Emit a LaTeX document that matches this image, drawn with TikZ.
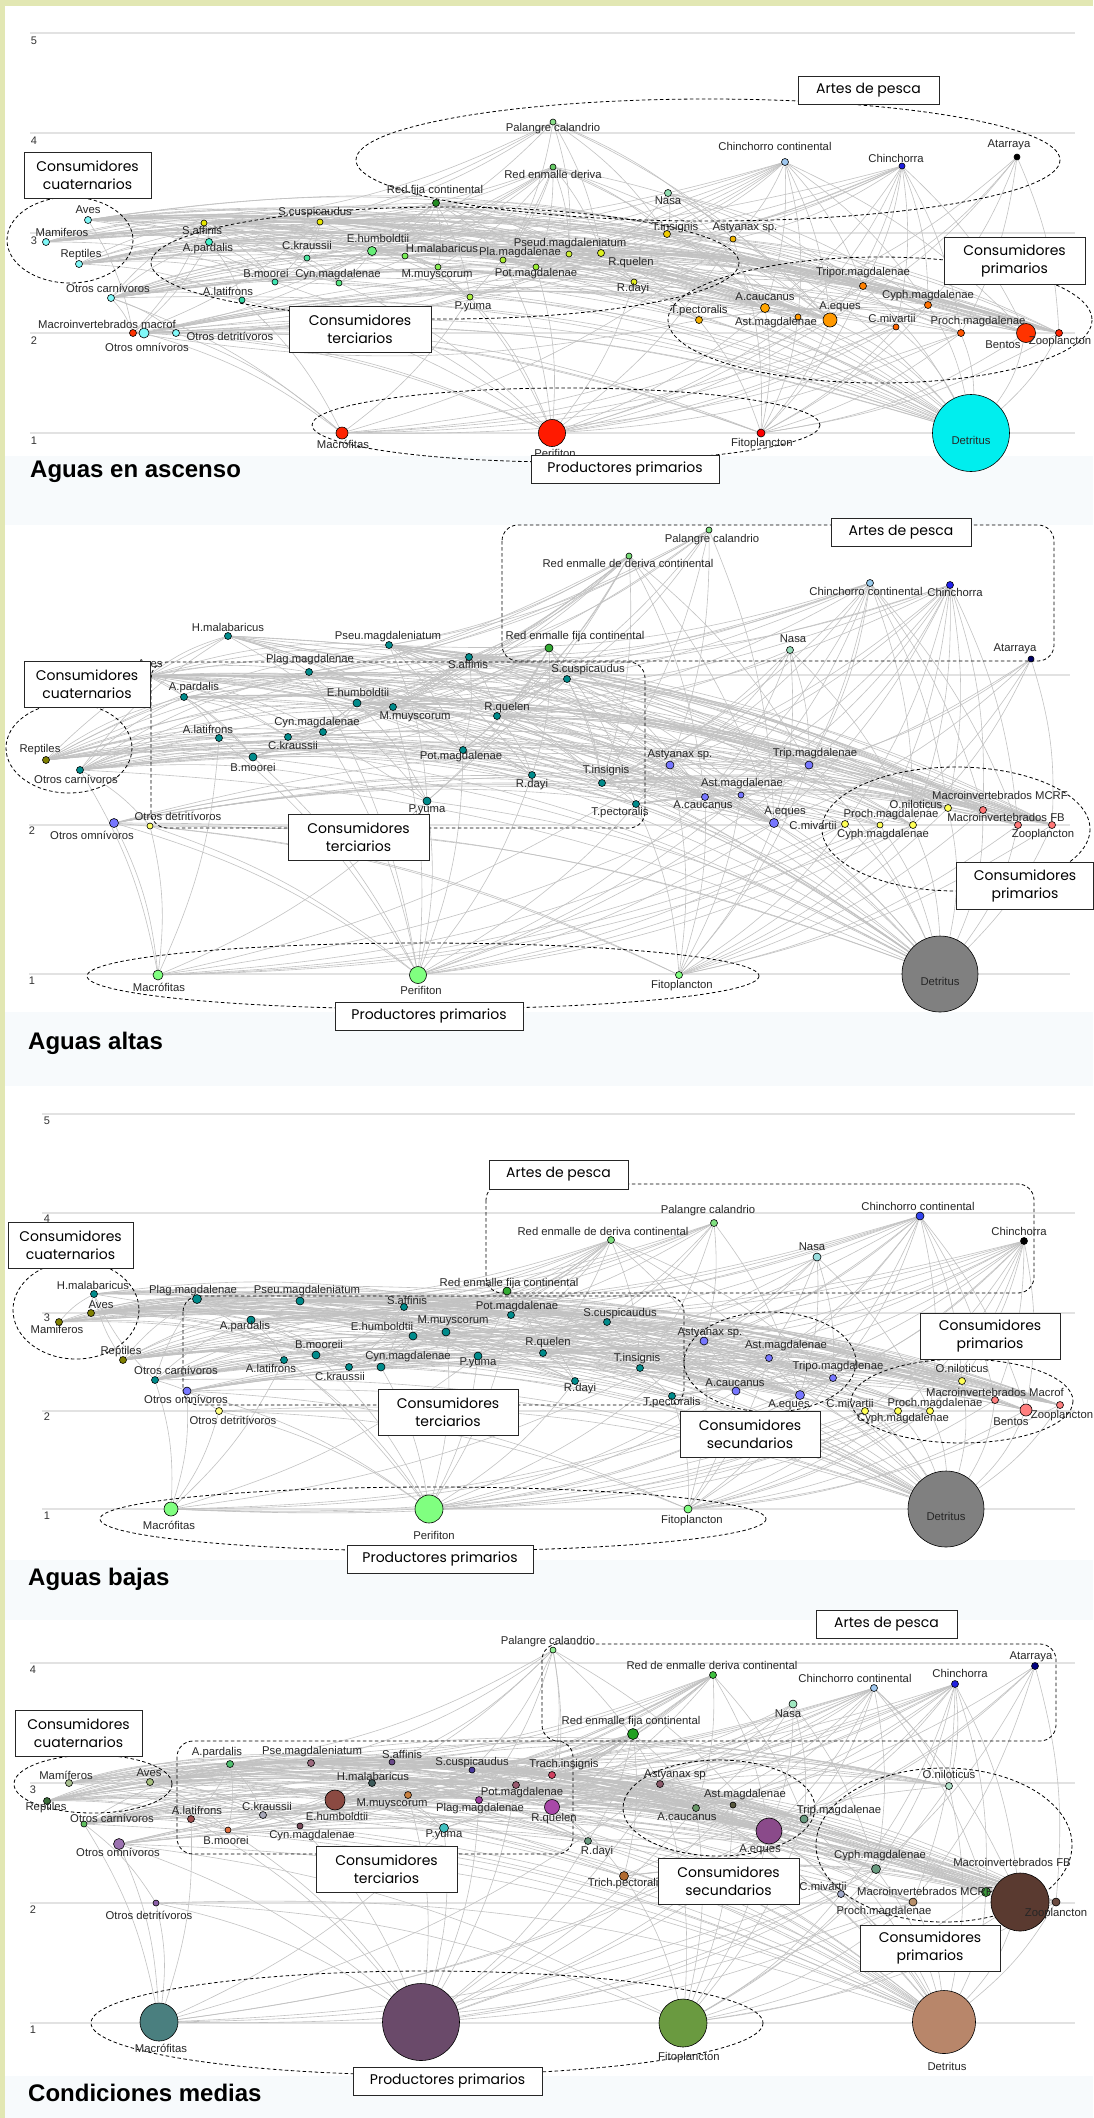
\documentclass[tikz,border=0pt]{standalone}
\usepackage{fontspec}
\setmainfont{Liberation Sans}
\newfontfamily\boxfont{Poppins}
\newfontfamily\titlefont{Liberation Sans}
\pgfdeclarelayer{bgl}
\pgfdeclarelayer{edl}
\pgfsetlayers{bgl,edl,main}
\definecolor{edgec}{HTML}{C2C2C2}
\definecolor{gridc}{HTML}{E2E2E2}
\definecolor{pagebg}{HTML}{F7FAFC}
\definecolor{framec}{HTML}{E2E7B3}
\tikzset{
 sp/.style={circle,draw=black,line width=0.6,inner sep=0,minimum size=#1},
 lb/.style={font=\fontsize{11.3}{12}\selectfont,inner sep=0,text=black!85},
 lnk/.style={draw=edgec,line width=0.6},
 grp/.style={draw=black,line width=0.8,dash pattern=on 3.5pt off 2.5pt},
 gbox/.style={draw=black!85,line width=0.9,fill=white,align=center,inner sep=0,font=\boxfont\fontsize{14}{18}\selectfont},
 gridln/.style={draw=gridc,line width=1.2},
 gl/.style={font=\fontsize{11}{12}\selectfont,text=black!80,inner sep=0},
 ttl/.style={font=\titlefont\bfseries\fontsize{24}{26}\selectfont,anchor=base west,inner sep=0}
}
\newcommand\spx[8]{\definecolor{spc}{HTML}{#5}\node[sp=#4,fill=spc] (#1) at (#2,#3) {};\node[lb] (#1t) at (#7,#8) {#6};}
\newcommand\gbx[6]{\node[gbox,minimum width=#4,minimum height=#5] (#1) at (#2,#3) {#6};}
\def\commonedges{aves/{saff,apar,scus,ehum,hmal,plag,tins,asty,acau,aequ,pseu,rque,zoop},%
rep/{apar,ckra,bmoo,cynm,potm,rday,tpec,aequ,proc,zoop,alat},%
ocar/{alat,bmoo,pyum,rday,tpec,astm,cmiv,macr,detr,odet,trip},%
oomn/{macr,peri,detr,fito,zoop,cyph},%
odet/{detr,macr,peri},%
pala/{saff,scus,rque,asty,ehum},%
rder/{apar,ehum,plag,pseu,rque,tins,acau,aequ,trip,saff},%
rfij/{saff,ckra,ehum,hmal,mmuy,potm,pyum,rday,tpec,alat},%
nasa/{tins,asty,rque,acau},%
chco/{aequ,acau,astm,trip,rque,pseu,ehum,cyph},%
chin/{trip,cyph,cmiv,proc,aequ,ehum,plag},%
saff/{apar,ckra,ehum,bmoo,asty,acau,aequ},%
scus/{ehum,plag,potm,acau,aequ,zoop},%
apar/{bmoo,ckra,alat,aequ,acau,zoop},%
ehum/{cynm,mmuy,plag,acau,aequ,zoop,detr},%
ckra/{bmoo,cynm,aequ,zoop},%
hmal/{mmuy,pyum,aequ,zoop},%
pseu/{rque,acau,aequ,cyph,zoop},%
plag/{aequ,zoop,detr,peri},%
potm/{aequ,zoop,peri,detr},%
rque/{aequ,acau,zoop,detr},%
rday/{zoop,detr,peri},%
pyum/{peri,detr,macr},%
tins/{zoop,aequ,cyph},%
tpec/{zoop,detr,fito},%
bmoo/{zoop,detr,peri},%
alat/{peri,detr,macr},%
cynm/{detr,peri},%
mmuy/{peri,zoop,detr},%
asty/{peri,detr,zoop,macr},%
acau/{peri,detr,fito},%
astm/{peri,detr,fito},%
aequ/{detr,peri,macr,fito},%
trip/{detr,peri,fito},%
cyph/{detr,peri,fito},%
cmiv/{detr,peri},%
proc/{detr,macr},%
zoop/{fito,detr}}
\def\moreedges{rder/{bmoo,ckra,cynm,potm,mmuy,pyum},%
rfij/{plag,pseu,rque,tins,acau},%
pala/{apar,plag,pseu,tins,aequ},%
chco/{saff,apar,plag,tins,asty},%
chin/{saff,rque,tins,asty,acau,astm},%
nasa/{trip,aequ,cyph},%
aves/{ckra,bmoo,cynm,mmuy,potm,rday,pyum,tpec,astm,trip},%
rep/{saff,scus,ehum,hmal,plag,pseu,rque,tins,asty,acau},%
ocar/{saff,apar,ckra,ehum,hmal,plag,potm,rque,acau,aequ},%
oomn/{trip,astm,acau,aequ,proc,cmiv},%
saff/{cynm,mmuy,plag,potm,rque,trip,cyph},%
scus/{apar,ckra,bmoo,pseu,rque,tins,trip},%
ehum/{bmoo,ckra,pyum,potm,rday,trip,cyph,cmiv},%
hmal/{plag,potm,rday,acau,trip,cyph},%
pseu/{potm,rday,pyum,tins,trip,proc},%
rque/{rday,tins,tpec,trip,cyph,proc},%
tins/{asty,acau,astm,trip,proc},%
asty/{fito},%
trip/{macr},%
cmiv/{fito,macr},%
proc/{peri,fito},%
cyph/{macr},%
odet/{fito}}
\def\predX{aves,ocar,saff,scus,apar,ehum,pseu,rque,tins,tpec,chin,chco}
\def\mamlist{apar,ckra,ehum,plag,pseu,rque,acau,aequ,cyph,saff,scus,zoop,hmal,bmoo,potm,tins}
\def\atarlist{proc,cyph,aequ,trip,zoop,acau}
\newcommand\panelEdges[1]{\foreach \s/\ts in \commonedges {\foreach \t in \ts {\draw[lnk] (#1\s) to[bend left=10] (#1\t);}}\foreach \s/\ts in \moreedges {\foreach \t in \ts {\draw[lnk] (#1\s) to[bend left=10] (#1\t);}}}
\newcommand\edgesX[2]{\foreach \s in \predX {\draw[lnk] (#1\s) to[bend left=10] (#1#2);}\draw[lnk] (#1#2) to[bend left=12] (#1detr);\draw[lnk] (#1#2) to[bend left=12] (#1fito);}
\newcommand\mamEdges[1]{\foreach \t in \mamlist {\draw[lnk] (#1mam) to[bend left=10] (#1\t);}}
\newcommand\atarEdges[1]{\foreach \t in \atarlist {\draw[lnk] (#1atar) to[bend left=10] (#1\t);}}
\begin{document}
\begin{tikzpicture}[x=1pt,y=-1pt]
\useasboundingbox (0,0) rectangle (1093,2118);
\begin{pgfonlayer}{bgl}
\fill[pagebg] (0,0) rectangle (1093,2118);
\fill[white] (5,6) rectangle (1093,456);
\fill[white] (5,525) rectangle (1093,1012);
\fill[white] (5,1086) rectangle (1093,1560);
\fill[white] (5,1620) rectangle (1093,2076);
\fill[framec] (0,0) rectangle (1093,6);
\fill[framec] (0,0) rectangle (5,2118);
\foreach \y in {33,133,233,333,433} \draw[gridln] (30,\y) -- (1075,\y);
\foreach \y in {675,825,974} \draw[gridln] (29,\y) -- (1070,\y);
\foreach \y in {1114,1213,1313,1411,1509} \draw[gridln] (42,\y) -- (1075,\y);
\foreach \y in {1663,1783,1903,2023} \draw[gridln] (30,\y) -- (1075,\y);
\end{pgfonlayer}
% ---------- grid labels and titles
\node[gl] (Ag5) at (34,41) {5};\node[gl] (Ag4) at (34,141) {4};\node[gl] (Ag3) at (34,241) {3};\node[gl] (Ag2) at (34,341) {2};\node[gl] (Ag1) at (34,441) {1};
\node[gl] (Bg2) at (32,831) {2};\node[gl] (Bg1) at (32,981) {1};
\node[gl] (Cgl5) at (47,1121) {5};\node[gl] (Cgl4) at (47,1219) {4};\node[gl] (Cgl3) at (47,1318) {3};\node[gl] (Cgl2) at (47,1417) {2};\node[gl] (Cgl1) at (47,1516) {1};
\node[gl] (Dgl4) at (33,1670) {4};\node[gl] (Dgl3) at (33,1790) {3};\node[gl] (Dgl2) at (33,1910) {2};\node[gl] (Dgl1) at (33,2030) {1};
\node[ttl] (Attl) at (30,477) {Aguas en ascenso};
\node[ttl] (Bttl) at (28,1049) {Aguas altas};
\node[ttl] (Cttl) at (28,1585) {Aguas bajas};
\node[ttl] (Dttl) at (28,2101) {Condiciones medias};
% ---------- group outlines
\draw[grp] (70,240) ellipse [x radius=63,y radius=43];
\draw[grp] (445,263) ellipse [x radius=294,y radius=56];
\draw[grp] (708,160) ellipse [x radius=352,y radius=61];
\draw[grp] (880,320) ellipse [x radius=212,y radius=63];
\draw[grp] (566,425) ellipse [x radius=254,y radius=37];
\draw[grp] (69,748) ellipse [x radius=63,y radius=45];
\draw[grp,rounded corners=16] (151,662) rectangle (645,828);
\draw[grp,rounded corners=16] (502,525) rectangle (1054,661);
\draw[grp] (956,829) ellipse [x radius=134,y radius=62];
\draw[grp] (423,976) ellipse [x radius=336,y radius=33];
\draw[grp] (76,1310) ellipse [x radius=63,y radius=49];
\draw[grp,rounded corners=16] (183,1296) rectangle (684,1405);
\draw[grp,rounded corners=16] (486,1184) rectangle (1034,1293);
\draw[grp] (770,1362) ellipse [x radius=86,y radius=50];
\draw[grp] (962,1401) ellipse [x radius=111,y radius=42];
\draw[grp] (433,1519) ellipse [x radius=333,y radius=32];
\draw[grp] (93,1784) ellipse [x radius=79,y radius=29];
\draw[grp,rounded corners=16] (177,1741) rectangle (573,1854);
\draw[grp,rounded corners=16] (542,1644) rectangle (1056,1741);
\draw[grp] (719,1808) ellipse [x radius=96,y radius=48];
\draw[grp] (944,1845) ellipse [x radius=128,y radius=77];
\draw[grp] (427,2023) ellipse [x radius=336,y radius=52];
% ---------- panel A
\spx{Aaves}{88}{220}{7}{80F8F8}{Aves}{88}{210}
\spx{Amam}{46}{242}{7}{80F8F8}{Mamiferos}{62}{232}
\spx{Arep}{79}{264}{7}{80F8F8}{Reptiles}{81}{255}
\spx{Aocar}{111}{298}{7}{80F8F8}{Otros carnívoros}{108}{288}
\spx{Amcrf}{133}{333}{7}{FF3300}{Macroinvertebrados macrof}{107}{324}
\spx{Aoomn}{144}{333}{10}{80F8F8}{Otros omnívoros}{147}{347}
\spx{Aodet}{176}{333}{7}{80F8F8}{Otros detritívoros}{230}{336}
\spx{Asaff}{204}{223}{6}{E6E600}{S.affinis}{202}{230}
\spx{Aapar}{209}{242}{7}{40F0C8}{A.pardalis}{208}{249}
\spx{Ascus}{320}{222}{6}{E6E600}{S.cuspicaudus}{315}{213}
\spx{Ackra}{307}{258}{6}{4DE6A0}{C.kraussii}{307}{245}
\spx{Aehum}{372}{251}{9}{66EE77}{E.humboldtii}{378}{238}
\spx{Abmoo}{275}{282}{6}{40E6B3}{B.moorei}{266}{273}
\spx{Acynm}{339}{283}{6}{55E680}{Cyn.magdalenae}{338}{275}
\spx{Aalat}{242}{300}{6}{33D9A6}{A.latifrons}{228}{291}
\spx{Ahmal}{405}{256}{6}{77EE55}{H.malabaricus}{442}{248}
\spx{Ammuy}{438}{267}{6}{88EE55}{M.muyscorum}{437}{275}
\spx{Aplag}{503}{260}{6}{AAEE33}{Pla.magdalenae}{520}{253}
\spx{Apseu}{569}{254}{6}{CCEE33}{Pseud.magdaleniatum}{570}{244}
\spx{Apotm}{536}{267}{6}{99EE33}{Pot.magdalenae}{536}{274}
\spx{Arque}{601}{253}{7}{DDF020}{R.quelen}{631}{263}
\spx{Arday}{634}{282}{6}{E6F020}{R.dayi}{633}{289}
\spx{Apyum}{470}{297}{6}{AAF040}{P.yuma}{473}{307}
\spx{Atins}{667}{234}{7}{F0CC00}{T.insignis}{675}{228}
\spx{Aasty}{733}{239}{6}{F5B800}{Astyanax sp.}{745}{228}
\spx{Atpec}{699}{320}{7}{F5B000}{T.pectoralis}{699}{311}
\spx{Aacau}{765}{308}{9}{FFA500}{A.caucanus}{765}{297}
\spx{Aastm}{798}{317}{6}{FF9900}{Ast.magdalenae}{776}{323}
\spx{Aaequ}{830}{320}{14}{FF9900}{A.eques}{840}{307}
\spx{Atrip}{863}{286}{7}{FF8000}{Tripor.magdalenae}{863}{273}
\spx{Acyph}{928}{305}{7}{FF7000}{Cyph.magdalenae}{928}{296}
\spx{Acmiv}{896}{327}{6}{FF6600}{C.mivartii}{892}{318}
\spx{Aproc}{961}{333}{7}{FF5500}{Proch.magdalenae}{978}{322}
\spx{Abent}{1026}{333}{19}{FF3300}{Bentos}{1003}{345}
\spx{Azoop}{1059}{333}{7}{FF2200}{Zooplancton}{1060}{342}
\spx{Amacr}{342}{433}{12}{FF2200}{Macrófitas}{343}{444}
\spx{Aperi}{552}{433}{27}{FF1A00}{Perifiton}{555}{453}
\spx{Afito}{761}{433}{8}{FF0000}{Fitoplancton}{762}{444}
\spx{Adetr}{971}{433}{77}{00EEEE}{Detritus}{971}{440}
\spx{Apala}{553}{122}{6}{88DD88}{Palangre calandrio}{553}{129}
\spx{Arder}{553}{167}{6}{66CC66}{Red enmalle deriva}{553}{174}
\spx{Arfij}{436}{203}{7}{228B22}{Red fija continental}{435}{191}
\spx{Anasa}{668}{193}{7}{90DDB0}{Nasa}{668}{201}
\spx{Achco}{785}{162}{7}{A0C8F0}{Chinchorro continental}{775}{146}
\spx{Achin}{902}{166}{6}{2020E0}{Chinchorra}{896}{158}
\spx{Aatar}{1017}{157}{6}{000000}{Atarraya}{1009}{145}
% ---------- panel B
\spx{Baves}{148}{676}{7}{808000}{Aves}{150}{664}
\spx{Brep}{46}{760}{7}{808000}{Reptiles}{40}{750}
\spx{Bocar}{80}{770}{7}{008B8B}{Otros carnívoros}{76}{779}
\spx{Boomn}{114}{823}{9}{7777FF}{Otros omnívoros}{92}{835}
\spx{Bodet}{150}{826}{6}{FFFF66}{Otros detritívoros}{178}{816}
\spx{Bhmal}{228}{636}{7}{008B8B}{H.malabaricus}{228}{627}
\spx{Bpseu}{389}{645}{7}{008B8B}{Pseu.magdaleniatum}{388}{637}
\spx{Bplag}{309}{672}{7}{008B8B}{Plag.magdalenae}{310}{660}
\spx{Bapar}{184}{697}{7}{008B8B}{A.pardalis}{194}{688}
\spx{Behum}{357}{703}{8}{008B8B}{E.humboldtii}{358}{692}
\spx{Bcynm}{323}{732}{7}{008B8B}{Cyn.magdalenae}{317}{723}
\spx{Bckra}{288}{737}{7}{008B8B}{C.kraussii}{293}{745}
\spx{Balat}{219}{738}{7}{008B8B}{A.latifrons}{208}{729}
\spx{Bbmoo}{253}{757}{8}{008B8B}{B.moorei}{253}{767}
\spx{Bmacr}{158}{975}{10}{80FF80}{Macrófitas}{159}{987}
\spx{Bpala}{709}{530}{6}{80E080}{Palangre calandrio}{712}{540}
\spx{Brder}{629}{556}{6}{77DD77}{Red enmalle de deriva continental}{628}{563}
\spx{Brfij}{549}{648}{8}{33AA33}{Red enmalle fija continental}{575}{637}
\spx{Bsaff}{469}{657}{7}{008B8B}{S.affinis}{468}{664}
\spx{Bscus}{567}{679}{7}{008B8B}{S.cuspicaudus}{588}{670}
\spx{Bmmuy}{393}{707}{7}{008B8B}{M.muyscorum}{415}{717}
\spx{Brque}{497}{716}{7}{008B8B}{R.quelen}{507}{708}
\spx{Bpotm}{463}{750}{7}{008B8B}{Pot.magdalenae}{461}{757}
\spx{Brday}{532}{775}{7}{008B8B}{R.dayi}{532}{785}
\spx{Btins}{602}{783}{7}{008B8B}{T.insignis}{606}{771}
\spx{Bpyum}{427}{801}{8}{008B8B}{P.yuma}{427}{810}
\spx{Btpec}{636}{804}{7}{008B8B}{T.pectoralis}{620}{813}
\spx{Basty}{670}{765}{8}{7777FF}{Astyanax sp.}{680}{755}
\spx{Bacau}{705}{797}{7}{7777FF}{A.caucanus}{703}{805}
\spx{Bastm}{741}{795}{6}{7777FF}{Ast.magdalenae}{742}{784}
\spx{Bchco}{870}{583}{7}{99CCEE}{Chinchorro continental}{866}{591}
\spx{Bchin}{950}{585}{7}{2222EE}{Chinchorra}{955}{592}
\spx{Bnasa}{790}{650}{7}{99DDBB}{Nasa}{793}{639}
\spx{Batar}{1031}{659}{6}{000066}{Atarraya}{1015}{649}
\spx{Btrip}{809}{765}{8}{7777FF}{Trip.magdalenae}{815}{754}
\spx{Baequ}{774}{823}{9}{7777FF}{A.eques}{785}{812}
\spx{Bcmiv}{845}{824}{7}{FFFF55}{C.mivartii}{813}{825}
\spx{Bproc}{880}{825}{6}{FFFF55}{Proch.magdalenae}{891}{815}
\spx{Bcyph}{913}{825}{7}{FFFF55}{Cyph.magdalenae}{883}{835}
\spx{Bonil}{948}{808}{7}{FFFF55}{O.niloticus}{916}{804}
\spx{Bmcrf}{983}{810}{7}{FF7777}{Macroinvertebrados MCRF}{1000}{795}
\spx{Bmafb}{1018}{825}{7}{FF7777}{Macroinvertebrados FB}{1006}{817}
\spx{Bzoop}{1052}{825}{7}{FF7777}{Zooplancton}{1043}{835}
\spx{Bdetr}{940}{974}{76}{808080}{Detritus}{940}{981}
\spx{Bperi}{418}{975}{17}{80FF80}{Perifiton}{421}{990}
\spx{Bfito}{679}{975}{7}{80FF80}{Fitoplancton}{682}{986}
% ---------- panel C
\spx{Chmal}{94}{1294}{7}{008B8B}{H.malabaricus}{93}{1285}
\spx{Caves}{91}{1313}{7}{808000}{Aves}{101}{1305}
\spx{Cmam}{59}{1322}{7}{808000}{Mamiferos}{57}{1329}
\spx{Crep}{123}{1360}{7}{808000}{Reptiles}{121}{1352}
\spx{Cocar}{155}{1380}{7}{008B8B}{Otros carnívoros}{176}{1370}
\spx{Coomn}{187}{1391}{8}{7777FF}{Otros omnívoros}{186}{1399}
\spx{Codet}{219}{1411}{7}{FFFF80}{Otros detritívoros}{233}{1420}
\spx{Cplag}{197}{1299}{9}{008B8B}{Plag.magdalenae}{193}{1291}
\spx{Cpseu}{300}{1301}{8}{008B8B}{Pseu.magdaleniatum}{307}{1291}
\spx{Capar}{251}{1320}{8}{008B8B}{A.pardalis}{245}{1327}
\spx{Cbmoo}{316}{1355}{8}{008B8B}{B.mooreii}{319}{1344}
\spx{Calat}{284}{1360}{7}{008B8B}{A.latifrons}{271}{1368}
\spx{Cckra}{349}{1367}{7}{008B8B}{C.kraussii}{340}{1376}
\spx{Cehum}{413}{1336}{8}{008B8B}{E.humboldtii}{382}{1326}
\spx{Ccynm}{381}{1367}{8}{008B8B}{Cyn.magdalenae}{408}{1357}
\spx{Cmacr}{171}{1509}{14}{80FF80}{Macrófitas}{169}{1525}
\spx{Csaff}{404}{1307}{7}{008B8B}{S.affinis}{407}{1300}
\spx{Cmmuy}{446}{1332}{8}{008B8B}{M.muyscorum}{453}{1321}
\spx{Cpotm}{511}{1315}{7}{008B8B}{Pot.magdalenae}{517}{1307}
\spx{Cpyum}{478}{1356}{8}{008B8B}{P.yuma}{478}{1363}
\spx{Crque}{543}{1353}{7}{008B8B}{R.quelen}{548}{1343}
\spx{Crday}{575}{1381}{7}{008B8B}{R.dayi}{580}{1389}
\spx{Cscus}{607}{1322}{7}{008B8B}{S.cuspicaudus}{620}{1314}
\spx{Ctins}{640}{1368}{7}{008B8B}{T.insignis}{637}{1359}
\spx{Ctpec}{672}{1396}{7}{008B8B}{T.pectoralis}{672}{1403}
\spx{Crfij}{507}{1291}{8}{33AA33}{Red enmalle fija continental}{509}{1284}
\spx{Crder}{611}{1240}{7}{80E080}{Red enmalle de deriva continental}{603}{1231}
\spx{Cpala}{714}{1223}{7}{80E080}{Palangre calandrio}{708}{1211}
\spx{Casty}{704}{1341}{8}{7777FF}{Astyanax sp.}{710}{1333}
\spx{Cacau}{736}{1391}{8}{7777FF}{A.caucanus}{735}{1383}
\spx{Cchco}{920}{1216}{8}{3344EE}{Chinchorro continental}{918}{1206}
\spx{Cchin}{1024}{1241}{7}{000000}{Chinchorra}{1019}{1231}
\spx{Cnasa}{817}{1257}{8}{99DDDD}{Nasa}{812}{1247}
\spx{Castm}{769}{1358}{7}{7777FF}{Ast.magdalenae}{786}{1346}
\spx{Ctrip}{833}{1378}{7}{7777FF}{Tripo.magdalenae}{838}{1367}
\spx{Caequ}{800}{1395}{9}{7777FF}{A.eques}{789}{1405}
\spx{Ccmiv}{865}{1411}{7}{FFFF55}{C.mivartii}{850}{1403}
\spx{Cproc}{898}{1411}{7}{FFFF55}{Proch.magdalenae}{935}{1404}
\spx{Ccyph}{930}{1411}{7}{FFFF55}{Cyph.magdalenae}{903}{1419}
\spx{Conil}{962}{1381}{7}{FFFF55}{O.niloticus}{962}{1368}
\spx{Cmcrf}{995}{1400}{7}{FF7F7F}{Macroinvertebrados Macrof}{995}{1392}
\spx{Cbent}{1026}{1410}{12}{FF7F7F}{Bentos}{1011}{1422}
\spx{Czoop}{1060}{1405}{7}{FF7F7F}{Zooplancton}{1062}{1416}
\spx{Cdetr}{946}{1509}{76}{808080}{Detritus}{946}{1516}
\spx{Cperi}{429}{1509}{28}{80FF80}{Perifiton}{434}{1535}
\spx{Cfito}{688}{1509}{8}{80FF80}{Fitoplancton}{692}{1521}
% ---------- panel D
\spx{Dmam}{69}{1783}{7}{A8C090}{Mamíferos}{66}{1775}
\spx{Daves}{150}{1782}{7}{A8C080}{Aves}{149}{1773}
\spx{Drep}{47}{1801}{7}{3C6E3C}{Reptiles}{46}{1808}
\spx{Docar}{84}{1824}{6}{5FBF5F}{Otros carnívoros}{112}{1818}
\spx{Doomn}{119}{1844}{11}{9B72B0}{Otros omnívoros}{118}{1852}
\spx{Dodet}{156}{1903}{6}{8B5FA8}{Otros detritívoros}{149}{1915}
\spx{Dapar}{230}{1764}{7}{4FBF6F}{A.pardalis}{217}{1753}
\spx{Dpseu}{311}{1763}{7}{9C6B7F}{Pse.magdaleniatum}{312}{1752}
\spx{Dhmal}{372}{1783}{7}{3D5A5A}{H.malabaricus}{373}{1776}
\spx{Dmmuy}{408}{1795}{7}{C88040}{M.muyscorum}{392}{1804}
\spx{Dehum}{335}{1800}{20}{8B4A42}{E.humboldtii}{337}{1816}
\spx{Dckra}{263}{1815}{7}{A8A8B8}{C.kraussii}{267}{1806}
\spx{Dalat}{191}{1819}{7}{A05050}{A.latifrons}{197}{1810}
\spx{Dbmoo}{228}{1830}{6}{E07040}{B.moorei}{226}{1840}
\spx{Dcynm}{300}{1826}{6}{7A4A5A}{Cyn.magdalenae}{312}{1836}
\spx{Dmacr}{159}{2022}{38}{4A7F7F}{Macrófitas}{161}{2048}
\spx{Dpala}{553}{1650}{6}{90EE90}{Palangre calandrio}{548}{1642}
\spx{Drder}{713}{1675}{7}{40C040}{Red de enmalle deriva continental}{712}{1665}
\spx{Drfij}{633}{1734}{11}{20A020}{Red enmalle fija continental}{631}{1722}
\spx{Dsaff}{392}{1762}{6}{6A4A8A}{S.affinis}{402}{1754}
\spx{Dscus}{472}{1770}{6}{4A3AA0}{S.cuspicaudus}{472}{1763}
\spx{Dtins}{552}{1775}{7}{D04060}{Trach.insignis}{564}{1765}
\spx{Dpotm}{516}{1785}{7}{9A5A70}{Pot.magdalenae}{522}{1793}
\spx{Dplag}{479}{1800}{7}{A040A0}{Plag.magdalenae}{480}{1809}
\spx{Drque}{552}{1807}{15}{A848A8}{R.quelen}{554}{1819}
\spx{Dpyum}{444}{1828}{9}{40C0C0}{P.yuma}{444}{1835}
\spx{Drday}{588}{1841}{7}{6A9A80}{R.dayi}{597}{1852}
\spx{Dtpec}{624}{1876}{9}{B06A30}{Trich.pectoralis}{626}{1884}
\spx{Dasty}{660}{1784}{7}{8A5A6A}{Astyanax sp}{675}{1775}
\spx{Dacau}{696}{1808}{7}{6A9A6A}{A.caucanus}{687}{1817}
\spx{Dastm}{733}{1805}{6}{5A5A40}{Ast.magdalenae}{745}{1795}
\spx{Dperi}{421}{2022}{77}{6A4A6A}{Perifiton}{423}{2072}
\spx{Dfito}{683}{2023}{48}{6A9A40}{Fitoplancton}{689}{2058}
\spx{Datar}{1035}{1666}{7}{000080}{Atarraya}{1031}{1657}
\spx{Dchin}{955}{1684}{7}{2020E0}{Chinchorra}{960}{1673}
\spx{Dchco}{874}{1688}{7}{A0C8F0}{Chinchorro continental}{855}{1678}
\spx{Dnasa}{793}{1704}{8}{A0E8C0}{Nasa}{788}{1714}
\spx{Donil}{949}{1786}{7}{B0E0C8}{O.niloticus}{949}{1774}
\spx{Dtrip}{804}{1819}{8}{6A9A80}{Trip.magdalenae}{839}{1811}
\spx{Daequ}{769}{1831}{26}{8A4A8A}{A.eques}{760}{1850}
\spx{Dcyph}{876}{1869}{9}{6A9A80}{Cyph.magdalenae}{880}{1856}
\spx{Dcmiv}{841}{1894}{7}{A0A8C8}{C.mivartii}{823}{1886}
\spx{Dmcrf}{986}{1892}{9}{3A9A3A}{Macroinvertebrados MCRF}{925}{1891}
\spx{Dmafb}{1020}{1902}{58}{5A3A30}{Macroinvertebrados FB}{1012}{1862}
\spx{Dproc}{913}{1902}{8}{B8906A}{Proch.magdalenae}{884}{1912}
\spx{Dzoop}{1056}{1902}{8}{6A4A40}{Zooplancton}{1056}{1914}
\spx{Ddetr}{944}{2022}{63}{B8866A}{Detritus}{947}{2066}
% ---------- edges
\begin{pgfonlayer}{edl}
\panelEdges{A}\mamEdges{A}\atarEdges{A}\edgesX{A}{bent}\edgesX{A}{mcrf}
\panelEdges{B}\atarEdges{B}\edgesX{B}{onil}\edgesX{B}{mcrf}\edgesX{B}{mafb}
\panelEdges{C}\mamEdges{C}\edgesX{C}{onil}\edgesX{C}{mcrf}\edgesX{C}{bent}
\panelEdges{D}\mamEdges{D}\atarEdges{D}\edgesX{D}{onil}\edgesX{D}{mcrf}\edgesX{D}{mafb}
\end{pgfonlayer}
% ---------- group label boxes
\gbx{Ab1}{87.5}{175}{127}{46}{Consumidores\\cuaternarios}
\gbx{Ab2}{360}{329}{142}{46}{Consumidores\\terciarios}
\gbx{Ab3}{868.5}{90}{141}{28}{Artes de pesca}
\gbx{Ab4}{1014.5}{260.5}{141}{47}{Consumidores\\primarios}
\gbx{Ab5}{625}{469}{188}{28}{Productores primarios}
\gbx{Bb1}{87}{684}{126}{46}{Consumidores\\cuaternarios}
\gbx{Bb2}{358.5}{837}{141}{46}{Consumidores\\terciarios}
\gbx{Bb3}{901}{532}{140}{28}{Artes de pesca}
\gbx{Bb4}{1025}{885.5}{137}{47}{Consumidores\\primarios}
\gbx{Bb5}{429}{1016}{188}{28}{Productores primarios}
\gbx{Cb1}{70.5}{1245}{125}{46}{Consumidores\\cuaternarios}
\gbx{Cb2}{448}{1412}{140}{46}{Consumidores\\terciarios}
\gbx{Cb3}{558.5}{1174.5}{139}{29}{Artes de pesca}
\gbx{Cb4}{750}{1434}{140}{46}{Consumidores\\secundarios}
\gbx{Cb5}{990}{1336}{140}{46}{Consumidores\\primarios}
\gbx{Cb6}{440}{1559}{186}{28}{Productores primarios}
\gbx{Db1}{78.5}{1733}{127}{46}{Consumidores\\cuaternarios}
\gbx{Db2}{386.5}{1869}{141}{46}{Consumidores\\terciarios}
\gbx{Db3}{886.5}{1624}{141}{28}{Artes de pesca}
\gbx{Db4}{728.5}{1881}{141}{46}{Consumidores\\secundarios}
\gbx{Db5}{930}{1948}{140}{46}{Consumidores\\primarios}
\gbx{Db6}{447.5}{2081}{189}{28}{Productores primarios}
\end{tikzpicture}
\end{document}
